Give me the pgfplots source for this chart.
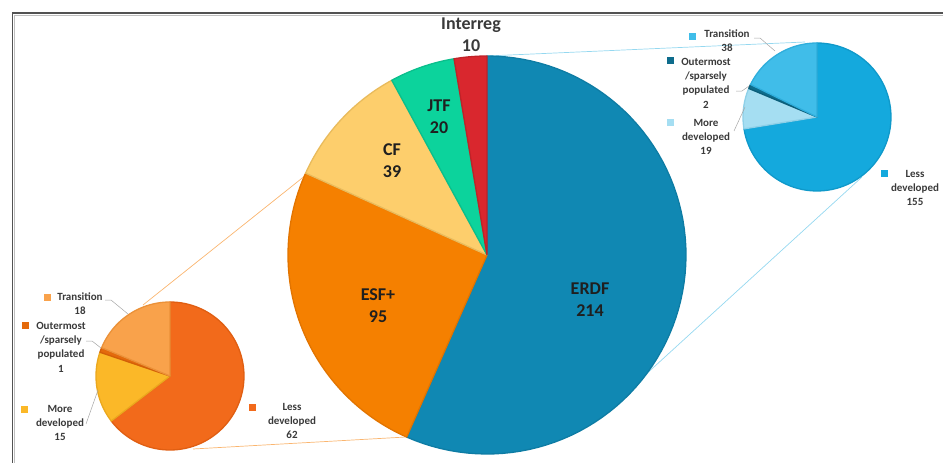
\documentclass[border=0pt]{standalone}
\usepackage{fontspec}
\setmainfont{Carlito}
\usepackage{pgfplots}
\pgfplotsset{compat=1.18}
\definecolor{cERDF}{HTML}{1088B3}\definecolor{dERDF}{HTML}{0E7CA4}
\definecolor{cESF}{HTML}{F58000}\definecolor{dESF}{HTML}{E27400}
\definecolor{cCF}{HTML}{FDCE6C}\definecolor{dCF}{HTML}{E9BB5C}
\definecolor{cJTF}{HTML}{0CD39C}\definecolor{dJTF}{HTML}{0ABF8C}
\definecolor{cINT}{HTML}{D9272E}\definecolor{dINT}{HTML}{C02228}
\definecolor{oLess}{HTML}{F26A1B}\definecolor{odLess}{HTML}{E05E12}
\definecolor{oMore}{HTML}{FBB828}\definecolor{odMore}{HTML}{EBA81E}
\definecolor{oOut}{HTML}{E46A0C}\definecolor{odOut}{HTML}{D35F08}
\definecolor{oTr}{HTML}{F9A24B}\definecolor{odTr}{HTML}{EB9138}
\definecolor{bLess}{HTML}{14A9DD}\definecolor{bdLess}{HTML}{0F99CA}
\definecolor{bMore}{HTML}{A5DEF2}\definecolor{bdMore}{HTML}{8ED0E8}
\definecolor{bOut}{HTML}{0E6C8C}\definecolor{bdOut}{HTML}{0B5E7A}
\definecolor{bTr}{HTML}{40BDE9}\definecolor{bdTr}{HTML}{2FAEDC}
\definecolor{txt}{HTML}{3A3A3A}
% #1 cx, #2 cy, #3 r, #4 angle from, #5 angle to, #6 fill, #7 draw
\newcommand\pieslice[7]{\addplot[fill=#6,draw=#7,line width=1.3pt,line join=round,domain=#4:#5,samples=80,variable=\t] ({#1+#3*cos(\t)},{#2-#3*sin(\t)}) -- (axis cs:#1,#2) -- cycle;}
\begin{document}
\begin{tikzpicture}
% main pie values
\def\vERDF{214}\def\vESF{95}\def\vCF{39}\def\vJTF{20}\def\vINT{10}
\pgfmathsetmacro\mT{\vERDF+\vESF+\vCF+\vJTF+\vINT}
\pgfmathsetmacro\mA{90}
\pgfmathsetmacro\mB{\mA-\vERDF/\mT*360}
\pgfmathsetmacro\mC{\mB-\vESF/\mT*360}
\pgfmathsetmacro\mD{\mC-\vCF/\mT*360}
\pgfmathsetmacro\mE{\mD-\vJTF/\mT*360}
\pgfmathsetmacro\mF{\mE-\vINT/\mT*360}
% ESF+ breakdown
\def\eLess{62}\def\eMore{15}\def\eOut{1}\def\eTr{18}
\pgfmathsetmacro\eT{\eLess+\eMore+\eOut+\eTr}
\pgfmathsetmacro\eA{90}
\pgfmathsetmacro\eB{\eA-\eLess/\eT*360}
\pgfmathsetmacro\eC{\eB-\eMore/\eT*360}
\pgfmathsetmacro\eD{\eC-\eOut/\eT*360}
\pgfmathsetmacro\eE{\eD-\eTr/\eT*360}
% ERDF breakdown
\def\rLess{155}\def\rMore{19}\def\rOut{2}\def\rTr{38}
\pgfmathsetmacro\rT{\rLess+\rMore+\rOut+\rTr}
\pgfmathsetmacro\rA{90}
\pgfmathsetmacro\rB{\rA-\rLess/\rT*360}
\pgfmathsetmacro\rC{\rB-\rMore/\rT*360}
\pgfmathsetmacro\rD{\rC-\rOut/\rT*360}
\pgfmathsetmacro\rE{\rD-\rTr/\rT*360}
\begin{axis}[hide axis, scale only axis, width=943pt, height=463pt,
  xmin=0, xmax=943, ymin=0, ymax=463, y dir=reverse, clip=false]
\coordinate (bbA) at (rel axis cs:0,0);
\coordinate (bbB) at (rel axis cs:1,1);
% frame
\addplot[draw=black!25, line width=1.2pt] coordinates {(14.5,470) (14.5,15.5) (950,15.5)};
\addplot[draw=black!68, line width=1.6pt] coordinates {(12.5,470) (12.5,13) (950,13)};
% connector lines
\addplot[draw=oTr!80, line width=0.7pt] coordinates {(306,175) (143,305)};
\addplot[draw=oTr!80, line width=0.7pt] coordinates {(406,437) (193,449)};
\addplot[draw=bLess!45, line width=0.7pt] coordinates {(487,56) (805,42)};
\addplot[draw=bLess!45, line width=0.7pt] coordinates {(643,377) (862,177)};
% main pie
\pieslice{487}{255}{199}{\mB}{\mA}{cERDF}{dERDF}
\pieslice{487}{255}{199}{\mC}{\mB}{cESF}{dESF}
\pieslice{487}{255}{199}{\mD}{\mC}{cCF}{dCF}
\pieslice{487}{255}{199}{\mE}{\mD}{cJTF}{dJTF}
\pieslice{487}{255}{199}{\mF}{\mE}{cINT}{dINT}
% left pie (ESF+)
\pieslice{170}{376}{74}{\eB}{\eA}{oLess}{odLess}
\pieslice{170}{376}{74}{\eC}{\eB}{oMore}{odMore}
\pieslice{170}{376}{74}{\eD}{\eC}{oOut}{odOut}
\pieslice{170}{376}{74}{\eE}{\eD}{oTr}{odTr}
% right pie (ERDF)
\pieslice{817}{117}{74}{\rB}{\rA}{bLess}{bdLess}
\pieslice{817}{117}{74}{\rC}{\rB}{bMore}{bdMore}
\pieslice{817}{117}{74}{\rD}{\rC}{bOut}{bdOut}
\pieslice{817}{117}{74}{\rE}{\rD}{bTr}{bdTr}
% leader lines
\addplot[draw=black!35, line width=0.5pt] coordinates {(105,300) (111,300) (128,314)};
\addplot[draw=black!35, line width=0.5pt] coordinates {(86,341) (92,341) (101,348)};
\addplot[draw=black!35, line width=0.5pt] coordinates {(86,424) (98,390)};
\addplot[draw=black!35, line width=0.5pt] coordinates {(754,38) (760,38) (775,51)};
\addplot[draw=black!35, line width=0.5pt] coordinates {(736,91) (742,91) (749,86)};
\addplot[draw=black!35, line width=0.5pt] coordinates {(734,131) (745,107)};
% legend keys
\addplot[only marks, mark=square*, mark size=3pt, color=oTr] coordinates {(47,297)};
\addplot[only marks, mark=square*, mark size=3pt, color=oOut] coordinates {(25,325)};
\addplot[only marks, mark=square*, mark size=3pt, color=oMore] coordinates {(24,409)};
\addplot[only marks, mark=square*, mark size=3pt, color=oLess] coordinates {(252,407)};
\addplot[only marks, mark=square*, mark size=3pt, color=bTr] coordinates {(692,36)};
\addplot[only marks, mark=square*, mark size=3pt, color=bOut] coordinates {(670,60)};
\addplot[only marks, mark=square*, mark size=3pt, color=bMore] coordinates {(670,122)};
\addplot[only marks, mark=square*, mark size=3pt, color=bLess] coordinates {(884,173)};
% main labels
\begin{scope}[every node/.style={align=center, inner sep=0pt, font=\bfseries\fontsize{18}{22}\selectfont}]
\node[text=black!88] at (axis cs:590,300) {ERDF\\214};
\node[text=black!88] at (axis cs:378,306) {ESF+\\95};
\node[text=black!88] at (axis cs:392,161) {CF\\39};
\node[text=black!88] at (axis cs:439,117) {JTF\\20};
\node[text=txt] at (axis cs:471,35) {Interreg\\10};
\end{scope}
% small labels
\begin{scope}[every node/.style={align=center, inner sep=0pt, text=txt, font=\bfseries\fontsize{11}{14.3}\selectfont}]
\node at (axis cs:80,304) {Transition\\18};
\node at (axis cs:61,347) {Outermost\\/sparsely\\populated\\1};
\node at (axis cs:60,423) {More\\developed\\15};
\node at (axis cs:292,421) {Less\\developed\\62};
\node at (axis cs:727,41) {Transition\\38};
\node at (axis cs:706,83) {Outermost\\/sparsely\\populated\\2};
\node at (axis cs:706,137) {More\\developed\\19};
\node at (axis cs:915,188) {Less\\developed\\155};
\end{scope}
\end{axis}
\pgfresetboundingbox
\path (bbA) rectangle (bbB);
\end{tikzpicture}
\end{document}
